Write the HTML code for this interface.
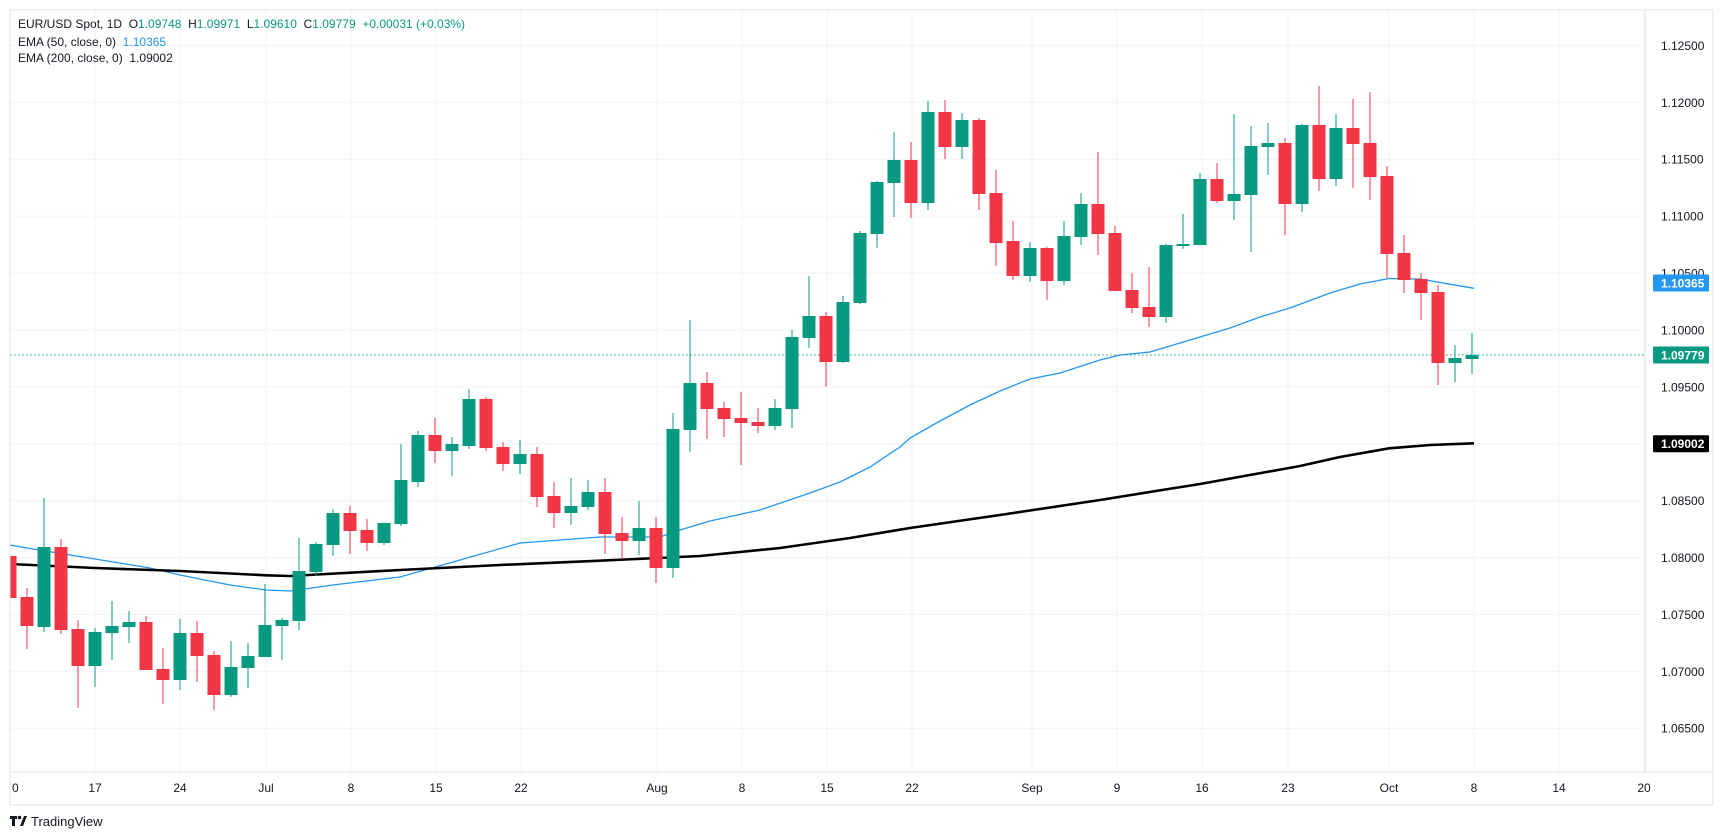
<!DOCTYPE html>
<html><head><meta charset="utf-8">
<style>
html,body{margin:0;padding:0;background:#fff;}
body{width:1723px;height:835px;overflow:hidden;position:relative;font-family:"Liberation Sans",sans-serif;}
svg{position:absolute;left:0;top:0;}
text{white-space:pre;}
</style></head>
<body>
<svg id="s" width="1723" height="835" xmlns="http://www.w3.org/2000/svg" font-family="Liberation Sans, sans-serif">
<rect x="0" y="0" width="1723" height="835" fill="#fff"/>
<g id="grid"></g>
<g id="ema"></g>
<line x1="10" y1="355" x2="1645" y2="355" stroke="#089981" stroke-width="1" stroke-dasharray="1.5,2.5"/>
<g id="c"></g>
<g id="ax"></g>
<g font-size="12" fill="#131722">
<text x="18" y="28" xml:space="preserve">EUR/USD Spot, 1D  O<tspan fill="#089981">1.09748</tspan>  H<tspan fill="#089981">1.09971</tspan>  L<tspan fill="#089981">1.09610</tspan>  C<tspan fill="#089981">1.09779</tspan>  <tspan fill="#089981">+0.00031 (+0.03%)</tspan></text>
<text x="18" y="46" xml:space="preserve">EMA (50, close, 0)  <tspan fill="#2196F3">1.10365</tspan></text>
<text x="18" y="62" xml:space="preserve">EMA (200, close, 0)  1.09002</text>
</g>
<g>
<rect x="10" y="816" width="7" height="3" fill="#131722"/><rect x="12" y="816" width="3" height="10" fill="#131722"/>
<circle cx="19.5" cy="817.5" r="1.8" fill="#131722"/><path d="M20 826 L24 816 L27 816 L23 826 Z" fill="#131722"/>
<text x="31" y="826" font-size="13" fill="#131722">TradingView</text>
</g>
</svg>
<script>
const NS="http://www.w3.org/2000/svg";
function el(p,t,a,txt){const e=document.createElementNS(NS,t);for(const k in a)e.setAttribute(k,a[k]);if(txt!==undefined)e.textContent=txt;document.getElementById(p).appendChild(e);return e;}
const Y=p=>45.4+(1.125-p)*11380;
const vx=[95,180,266,351,436,521,657,742,827,912,1032,1117,1202,1288,1389,1474,1559,1644];
const vl=["17","24","Jul","8","15","22","Aug","8","15","22","Sep","9","16","23","Oct","8","14","20"];
vx.forEach(x=>el("grid","line",{x1:x,y1:10,x2:x,y2:772,stroke:"#f0f3fa","stroke-width":1}));
for(let k=0;k<=12;k++){const p=1.125-k*0.005;const y=Y(p);
 el("grid","line",{x1:10,y1:y,x2:1645,y2:y,stroke:"#f0f3fa","stroke-width":1});
 el("ax","text",{x:1661,y:y+4.5,"font-size":12,fill:"#131722"},p.toFixed(5));}
el("ax","line",{x1:10,y1:10,x2:10,y2:805,stroke:"#e0e3eb"});
el("ax","line",{x1:10,y1:10,x2:1713,y2:10,stroke:"#e0e3eb"});
el("ax","line",{x1:1645,y1:10,x2:1645,y2:772,stroke:"#e0e3eb"});
el("ax","line",{x1:1713,y1:10,x2:1713,y2:805,stroke:"#e0e3eb"});
el("ax","line",{x1:10,y1:772,x2:1713,y2:772,stroke:"#e0e3eb"});
el("ax","line",{x1:10,y1:805,x2:1713,y2:805,stroke:"#e0e3eb"});
el("ax","text",{x:12,y:792,"font-size":12,fill:"#131722"},"0");
vx.forEach((x,i)=>el("ax","text",{x:x,y:792,"font-size":12,fill:"#131722","text-anchor":"middle"},vl[i]));
[[1.10365,"#2196F3","#fff",283],[1.09779,"#089981","#fff",355],[1.09002,"#000","#fff",443.7]].forEach(a=>{
 el("ax","rect",{x:1653,y:a[3]-8.5,width:56,height:17,fill:a[1],rx:1});
 el("ax","text",{x:1661,y:a[3]+4.5,"font-size":12,fill:a[2],"font-weight":"bold"},a[0].toFixed(5));});
const e50=[[10,545],[27,548],[95,559],[150,568],[180,575],[230,585],[266,590],[290,591],[333,585],[400,577],[460,560],[520,543],[600,537],[660,537],[680,530],[710,521],[760,510],[810,493],[840,482],[870,467],[900,447],[910,438],[940,421],[970,405],[1000,391],[1030,379],[1060,373],[1100,360],[1120,355],[1150,352],[1180,343],[1200,337],[1230,328],[1260,317],[1290,308],[1330,293],[1360,284],[1389,278.5],[1420,279],[1474,288.3]];
const e200=[[10,564],[95,568],[180,571],[266,575.3],[290,576],[400,570],[500,565],[600,560.7],[700,556],[780,548],[850,538],[910,528],[1000,515],[1100,500],[1200,484],[1300,466],[1340,457],[1389,448.3],[1430,445],[1474,443.3]];
el("ema","polyline",{points:e50.map(p=>p.join(",")).join(" "),fill:"none",stroke:"#2196F3","stroke-width":1.3});
el("ema","polyline",{points:e200.map(p=>p.join(",")).join(" "),fill:"none",stroke:"#000","stroke-width":2.6});
const C=[
[-5,"r",556,598,556,633],[-4,"r",597,626,588,649],[-3,"g",547,627,498,632],[-2,"r",547,630,539,634],[-1,"r",629,666,620,708],
[0,"g",632,666,628,687],[1,"g",626,633,601,660],[2,"g",622,627,611,643],[3,"r",622,670,616,670],[4,"r",669,680,648,704],
[5,"g",633,680,619,690],[6,"r",633,656,621,682],[7,"r",655,695,651,710],[8,"g",667,695,641,697],[9,"g",656,668,643,688],
[10,"g",625,657,584,657],[11,"g",620,626,618,660],[12,"g",571,621,538,630],[13,"g",544,572,542,576],[14,"g",513,545,509,556],
[15,"r",513,531,506,554],[16,"r",530,543,519,551],[17,"g",523,543,523,545],[18,"g",480,524,444,526],[19,"g",435,482,431,487],
[20,"r",435,451,418,463],[21,"g",444,451,437,476],[22,"g",399,446,389,449],[23,"r",399,448,397,451],[24,"r",447,464,442,471],
[25,"g",454,464,440,474],[26,"r",454,497,447,507],[27,"r",496,513,482,528],[28,"g",506,513,478,525],[29,"g",492,507,480,510],
[30,"r",492,534,478,554],[31,"r",533,541,517,559],[32,"g",528,541,501,555],[33,"r",528,568,517,583],[34,"g",429,568,413,578],
[35,"g",383,430,320,452],[36,"r",383,409,372,439],[37,"r",408,419,402,437],[38,"r",418,423,392,465],[39,"r",422,426,408,433],
[40,"g",408,426,399,430],[41,"g",337,409,330,428],[42,"g",316,338,276,348],[43,"r",316,362,312,387],[44,"g",302,362,296,363],
[45,"g",233,303,231,304],[46,"g",182,234,181,248],[47,"g",160,183,132,217],[48,"r",160,203,142,218],[49,"g",112,203,101,210],
[50,"r",112,147,100,159],[51,"g",120,147,113,159],[52,"r",120,194,118,210],[53,"r",193,243,170,266],[54,"r",241,276,221,280],
[55,"g",248,276,242,282],[56,"r",248,281,247,300],[57,"g",236,281,221,285],[58,"g",204,237,193,245],[59,"r",204,234,152,255],
[60,"r",233,291,226,291],[61,"r",290,308,273,313],[62,"r",307,317,267,327],[63,"g",245,317,244,323],[64,"g",244,246,214,249],
[65,"g",179,245,173,245],[66,"r",179,201,163,203],[67,"g",194,201,114,220],[68,"g",146,195,126,252],[69,"g",143,147,123,175],
[70,"r",143,204,138,235],[71,"g",125,204,124,212],[72,"r",125,179,86,191],[73,"g",128,179,114,186],[74,"r",128,144,99,188],
[75,"r",143,177,92,200],[76,"r",176,254,166,278],[77,"r",253,280,235,293],[78,"r",279,293,273,320],[79,"r",292,363,285,385],
[80,"g",358,363,345,382],[81,"g",355,359,333,374]];
C.forEach(c=>{const x=95+c[0]*17;const col=c[1]=="g"?"#089981":"#F23645";
 el("c","line",{x1:x,y1:c[4],x2:x,y2:c[5],stroke:col,"stroke-width":1});
 const bt=c[2],bb=Math.max(c[3],c[2]+2);
 const l=Math.max(10,x-6.5);el("c","rect",{x:l,y:bt,width:x+6.5-l,height:bb-bt,fill:col});});
</script>
</body></html>
